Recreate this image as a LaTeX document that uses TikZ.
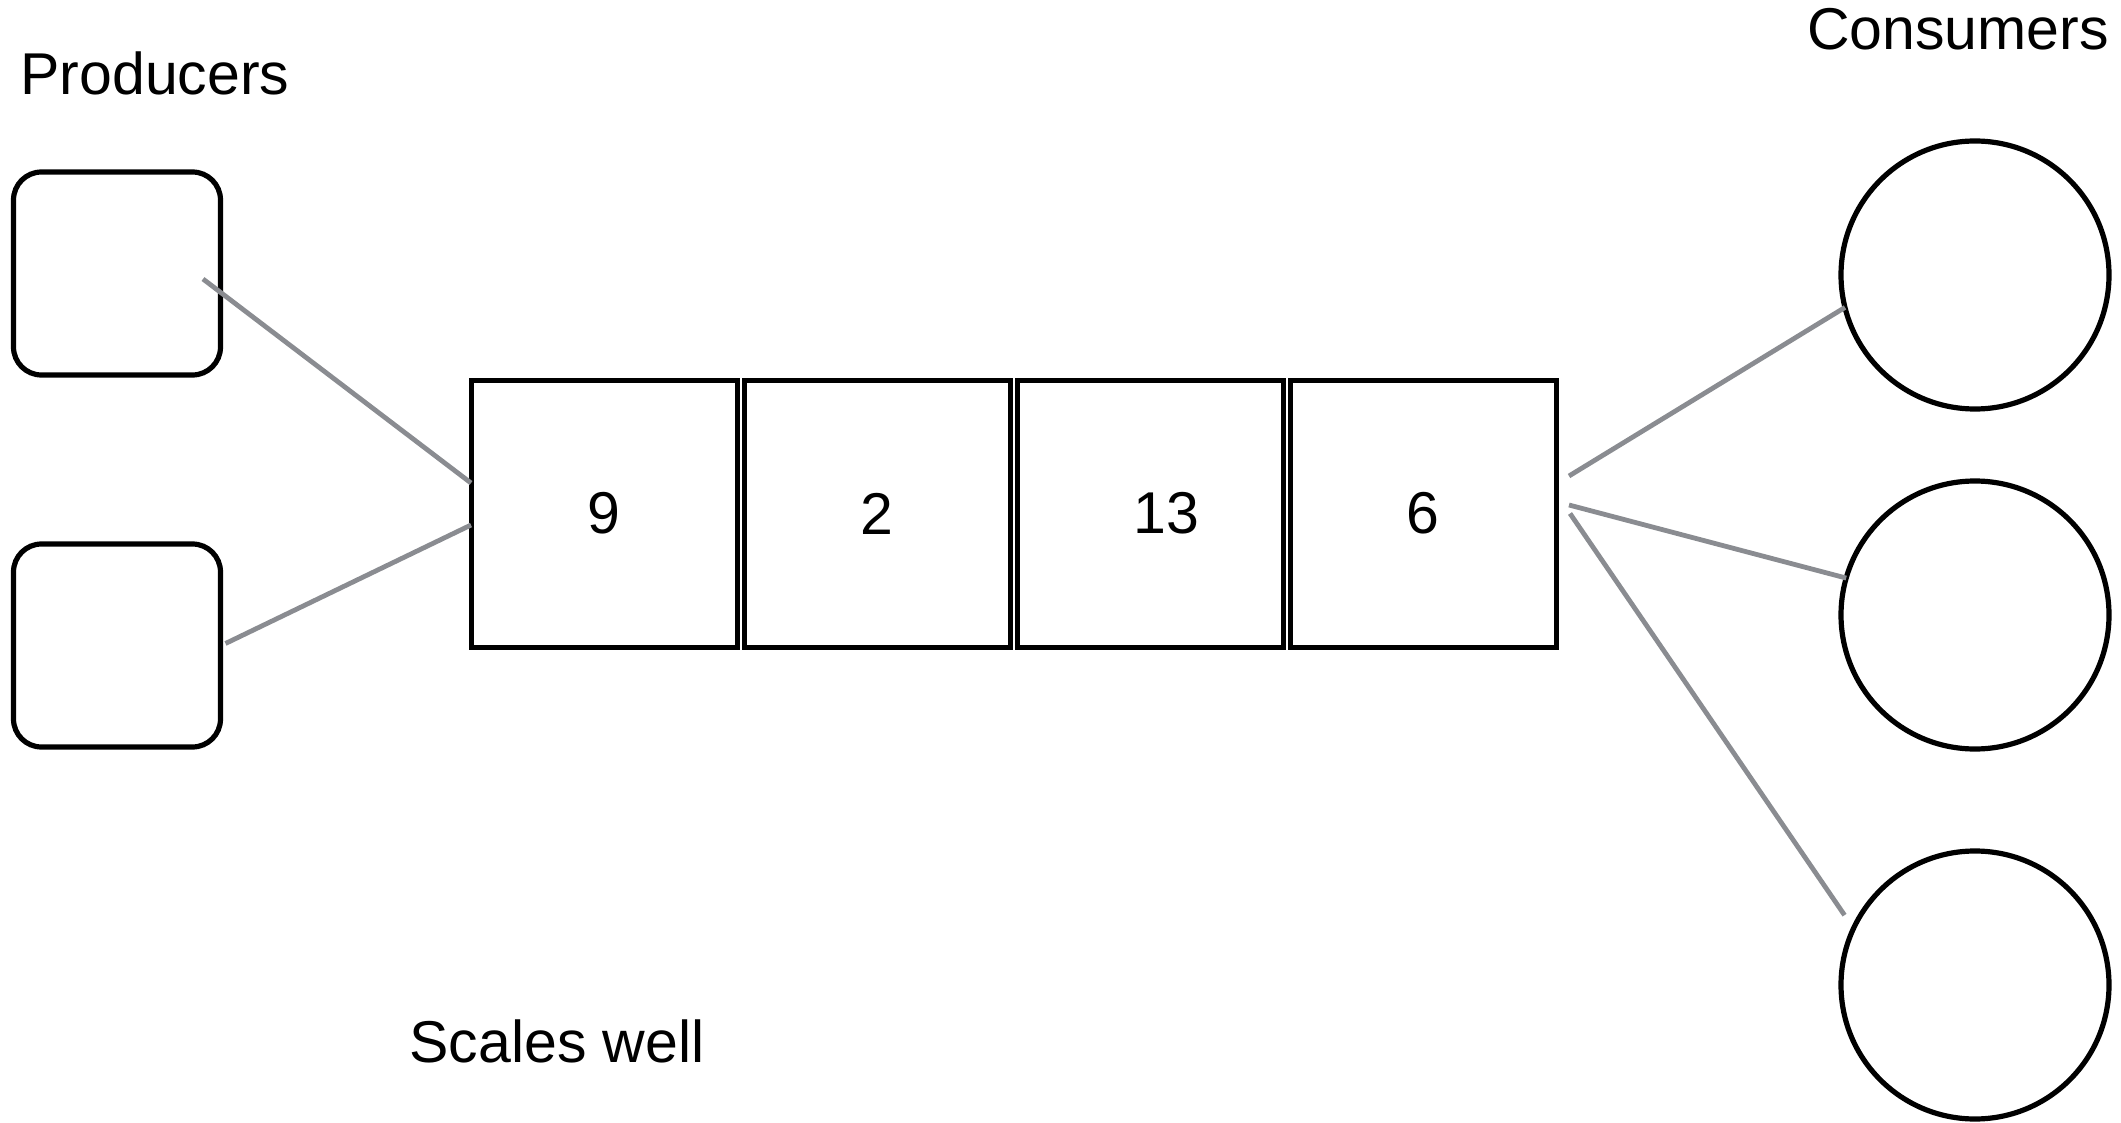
\documentclass[tikz,border=0pt]{standalone}
\usepackage{fontspec}
\setmainfont{Liberation Sans}
\usepackage{tikz}
\usetikzlibrary{positioning}
\definecolor{linkgray}{RGB}{138,140,145}
\tikzset{
  prodnode/.style = {draw, rounded corners=14pt, minimum width=103.5pt,
                     minimum height=101.5pt, line width=2.6pt, outer sep=0pt},
  cellnode/.style = {draw, minimum width=133pt, minimum height=133.5pt,
                     line width=2.5pt, outer sep=0pt, inner sep=0pt,
                     font=\fontsize{29.5}{35}\selectfont},
  consnode/.style = {draw, circle, minimum size=134pt, line width=2.6pt,
                     outer sep=0pt},
  caption/.style  = {font=\fontsize{29.5}{35}\selectfont, anchor=base,
                     inner sep=0pt},
  link/.style     = {-, line width=2.4pt, linkgray},
}

\begin{document}
\begin{tikzpicture}[x=0.5pt, y=-0.5pt, node distance=3.5pt]
    \useasboundingbox (0,0) rectangle (2121,1123);
    \node[cellnode] (q1) at (604,513.5) {9};
    \node[cellnode, right=of q1] (q2) {2};
    \node[cellnode, right=of q2] (q3) {\hspace{16pt}13};
    \node[cellnode, right=of q3] (q4) {6\hspace{4pt}};
    \node[prodnode] (p1) at (117,273.5) {};
    \node[prodnode, below=84.5pt of p1] (p2) {};
    \node[consnode] (c1) at (1975,275) {};
    \node[consnode, below=36pt of c1] (c2) {};
    \node[consnode, below=51pt of c2] (c3) {};
    \node[caption] (prodtitle) at (155,95) {Producers};
    \node[caption] (constitle) at (1958,50) {Consumers};
    \node[caption] (scaletitle) at (557,1062) {Scales well};
    \coordinate (p1out) at ([xshift=43pt, yshift=-2.75pt]p1.center);
    \coordinate (p2out) at ([xshift=2.5pt, yshift=1pt]p2.east);
    \coordinate (q1in) at ([yshift=15.25pt]q1.west);
    \coordinate (q1in2) at ([yshift=-5.75pt]q1.west);
    \coordinate (q4out) at ([xshift=6.5pt, yshift=18.75pt]q4.east);
    \coordinate (q4out2) at ([xshift=6.5pt, yshift=4.25pt]q4.east);
    \coordinate (q4out3) at ([xshift=7pt]q4.east);
    \draw[link] (p1out) -- (q1in);
    \draw[link] (p2out) -- (q1in2);
    \draw[link] (q4out) -- (c1.194);
    \draw[link] (q4out2) -- (c2.164);
    \draw[link, shorten >=8pt] (q4out3) -- (c3.155);
\end{tikzpicture}
\end{document}
